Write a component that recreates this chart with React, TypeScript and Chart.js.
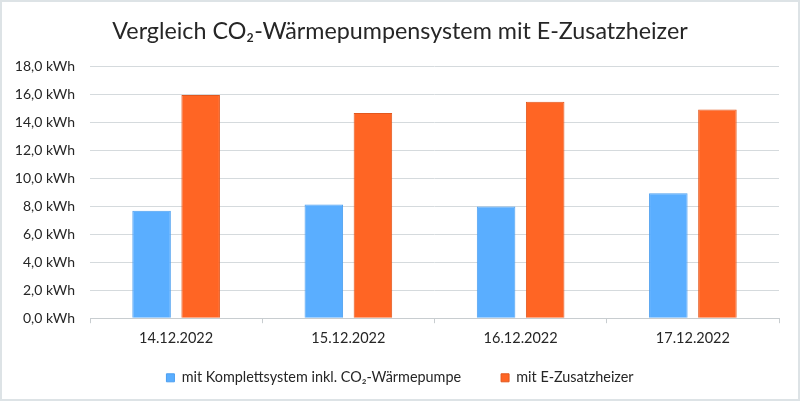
import { useEffect, useRef } from 'react'
import { Chart, registerables } from 'chart.js'
import type { Plugin } from 'chart.js'
Chart.register(...registerables)

const days = ['14.12.2022', '15.12.2022', '16.12.2022', '17.12.2022']
const mitWaermepumpe = [7.7, 8.15, 8.0, 8.95]
const mitZusatzheizer = [16.0, 14.7, 15.5, 14.95]
const yTicks = [0, 2, 4, 6, 8, 10, 12, 14, 16, 18]

const FONT = 'Lato, "Open Sans", sans-serif'
const TEXT = '#262626'

// legend padding is wide (item spacing), but we don't want it eating vertical room
const LEGEND_SHRINK = 18
const LEGEND_LIFT = 4
const legendTighten: Plugin<'bar'> = {
  id: 'legendTighten',
  afterInit(chart) {
    const lg: any = (chart as any).legend
    if (!lg) return
    const fit = lg.fit
    lg.fit = function () { fit.call(this); this.height -= LEGEND_SHRINK }
    const draw = lg.draw
    lg.draw = function () {
      const t = this.top
      this.top = t - LEGEND_SHRINK - LEGEND_LIFT
      draw.call(this)
      this.top = t
    }
  },
}

export default function App() {
  const ref = useRef<HTMLCanvasElement>(null)

  useEffect(() => {
    document.body.style.margin = '0'
    if (!ref.current) return
    const chart = new Chart(ref.current, {
      type: 'bar',
      data: {
        labels: days,
        datasets: [
          {
            label: 'mit Komplettsystem inkl. CO₂-Wärmepumpe',
            data: mitWaermepumpe,
            backgroundColor: '#5AAEFF', borderColor: '#4C9FF0', borderWidth: 1,
            categoryPercentage: 0.57, barPercentage: 0.785,
          },
          {
            label: 'mit E-Zusatzheizer',
            data: mitZusatzheizer,
            backgroundColor: '#FF6524', borderColor: '#E2571D', borderWidth: 1,
            categoryPercentage: 0.57, barPercentage: 0.785,
          },
        ],
      },
      options: {
        animation: false, responsive: true, maintainAspectRatio: false,
        layout: { padding: 0 },
        plugins: {
          title: {
            display: true,
            text: 'Vergleich CO₂-Wärmepumpensystem mit E-Zusatzheizer',
            color: TEXT, font: { family: FONT, size: 23.3, weight: 'normal' },
            padding: { top: 15, bottom: 22 },
          },
          legend: {
            position: 'bottom',
            labels: { boxWidth: 8, boxHeight: 8, padding: 40, color: TEXT, font: { family: FONT, size: 14.4 } },
          },
          tooltip: { enabled: false },
        },
        scales: {
          x: {
            grid: { display: true, drawOnChartArea: false, drawTicks: true, tickLength: 5, color: '#c8cdd0', offset: true },
            border: { display: true, color: '#c8cdd0' },
            ticks: { color: TEXT, font: { family: FONT, size: 14.5 }, padding: 6 },
          },
          y: {
            min: 0, max: 18,
            afterBuildTicks: s => { s.ticks = yTicks.map(v => ({ value: v })) },
            afterFit: s => { s.width = 88 },
            grid: { color: '#d5dadd', drawTicks: false },
            border: { display: false },
            ticks: {
              color: TEXT, font: { family: FONT, size: 14 }, padding: 15,
              callback: v => Number(v).toFixed(1).replace('.', ',') + ' kWh',
            },
          },
          // empty right axis, only a spacer so title/legend stay centred
          spacer: {
            type: 'linear', position: 'right', display: true,
            grid: { display: false }, border: { display: false }, ticks: { display: false },
            afterFit: s => { s.width = 19 },
          },
        },
      },
      plugins: [legendTighten],
    })
    return () => chart.destroy()
  }, [])

  return (
    <div style={{ width: 800, height: 401, boxSizing: 'border-box', border: '2px solid #dde3e6', background: '#fff' }}>
      <div style={{ width: 796, height: 397, position: 'relative' }}><canvas ref={ref} /></div>
    </div>
  )
}
